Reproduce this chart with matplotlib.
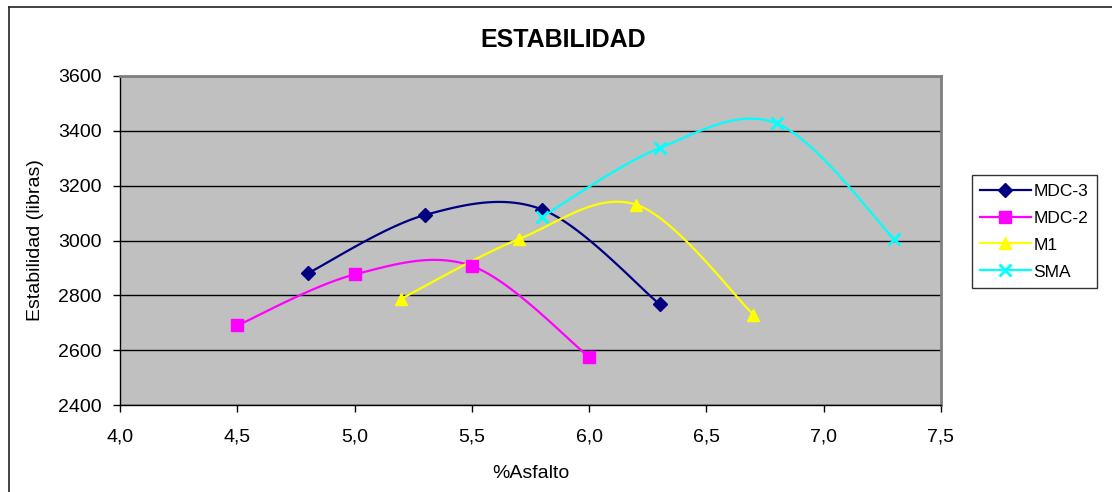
import numpy as np
import matplotlib
matplotlib.use("Agg")
import matplotlib.pyplot as plt
from matplotlib.lines import Line2D
from matplotlib.ticker import FuncFormatter, MultipleLocator

plt.rcParams['font.family'] = ['Liberation Sans', 'DejaVu Sans']

# Asphalt content (%) and Marshall stability (lb) for each mix
mdc3_x = [4.8, 5.3, 5.8, 6.3]
mdc3_y = [2880, 3093, 3113, 2768]
mdc2_x = [4.5, 5.0, 5.5, 6.0]
mdc2_y = [2690, 2876, 2907, 2575]
m1_x = [5.2, 5.7, 6.2, 6.7]
m1_y = [2788, 3005, 3131, 2730]
sma_x = [5.8, 6.3, 6.8, 7.3]
sma_y = [3087, 3337, 3427, 3006]

series_names = ["MDC-3", "MDC-2", "M1", "SMA"]
series_colors = ["#000080", "#FF00FF", "#FFFF00", "#00FFFF"]
series_markers = ["D", "s", "^", "x"]
series_msizes = [7, 9, 9, 9]


def smooth(xs, ys, n=40):
    """Cubic Bezier smoothing through the points (spreadsheet-style)."""
    p = np.column_stack([xs, ys]).astype(float)
    ext = np.vstack([p[0], p, p[-1]])
    t = np.linspace(0, 1, n)[:, None]
    out = []
    for i in range(len(p) - 1):
        p0, p1, p2, p3 = ext[i], ext[i + 1], ext[i + 2], ext[i + 3]
        c1 = p1 + (p2 - p0) / 6.0
        c2 = p2 - (p3 - p1) / 6.0
        seg = ((1 - t) ** 3) * p1 + 3 * ((1 - t) ** 2) * t * c1 \
            + 3 * (1 - t) * t ** 2 * c2 + t ** 3 * p2
        out.append(seg if i == 0 else seg[1:])
    pts = np.vstack(out)
    return pts[:, 0], pts[:, 1]


W, H = 1112, 492
fig = plt.figure(figsize=(W / 100, H / 100), dpi=100)
fig.patch.set_facecolor("white")

# outer chart frame
fig.add_artist(Line2D([9 / W, 9 / W], [0, 1 - 6.5 / H], transform=fig.transFigure,
                      color="#222222", lw=1.2))
fig.add_artist(Line2D([9 / W, 1], [1 - 6.5 / H, 1 - 6.5 / H], transform=fig.transFigure,
                      color="#222222", lw=1.2))

ax = fig.add_axes([120 / W, 1 - 405 / H, (941 - 120) / W, (405 - 76) / H])
ax.set_facecolor("#C0C0C0")

ax.set_xlim(4.0, 7.5)
ax.set_ylim(2400, 3600)
ax.xaxis.set_major_locator(MultipleLocator(0.5))
ax.yaxis.set_major_locator(MultipleLocator(200))
ax.xaxis.set_major_formatter(FuncFormatter(lambda v, _: f"{v:.1f}".replace(".", ",")))
ax.yaxis.set_major_formatter(FuncFormatter(lambda v, _: f"{int(v)}"))

ax.grid(axis="y", color="black", lw=1)
ax.set_axisbelow(True)

for spine in ["top", "right"]:
    ax.spines[spine].set_color("#808080")
    ax.spines[spine].set_linewidth(2)
for spine in ["left", "bottom"]:
    ax.spines[spine].set_color("black")
    ax.spines[spine].set_linewidth(1)

ax.tick_params(axis="both", direction="out", length=5, width=1, color="black",
               labelsize=14)
ax.tick_params(axis="y", pad=8)
ax.tick_params(axis="x", pad=12)

data = [(mdc3_x, mdc3_y), (mdc2_x, mdc2_y), (m1_x, m1_y), (sma_x, sma_y)]
handles = []
for (xs, ys), name, col, mk, ms in zip(data, series_names, series_colors,
                                       series_markers, series_msizes):
    sx, sy = smooth(xs, ys)
    ax.plot(sx, sy, color=col, lw=1.6, zorder=3)
    mew = 2 if mk == "x" else 1
    ax.plot(xs, ys, linestyle="none", marker=mk, markersize=ms, color=col,
            markeredgecolor=col, markeredgewidth=mew, zorder=4)
    handles.append(Line2D([], [], color=col, lw=1.6, marker=mk, markersize=ms,
                          markeredgecolor=col, markeredgewidth=mew, label=name))

ax.set_xlabel("%Asfalto", fontsize=14, labelpad=14)
ax.set_ylabel("Estabilidad (libras)", fontsize=14, labelpad=10)
fig.text(563 / W, 1 - 40 / H, "ESTABILIDAD", ha="center", va="center",
         fontsize=18, fontweight="bold")

leg = fig.legend(handles=handles, loc="center left",
                 bbox_to_anchor=(971.5 / W, 1 - 231.5 / H), fontsize=12.5,
                 frameon=True, fancybox=False, handlelength=2.9,
                 handletextpad=0.15, labelspacing=0.68, borderpad=0.5,
                 borderaxespad=0)
leg.get_frame().set_edgecolor("black")
leg.get_frame().set_linewidth(1)

fig.savefig("out.png", dpi=100, facecolor="white")
